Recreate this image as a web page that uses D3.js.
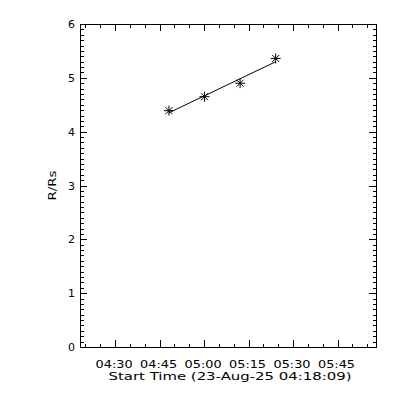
<!DOCTYPE html>
<html>
<head>
<meta charset="utf-8">
<script src="https://cdn.jsdelivr.net/npm/d3@7"></script>
<style>
  html, body { margin: 0; padding: 0; background: #fff; }
  svg { display: block; }
  text { font-family: "DejaVu Sans", sans-serif; fill: #000; }
</style>
</head>
<body>
<script>
// ---- data ----
const startTime = "04:18:09";
const startDate = "23-Aug-25";
const obsTimes = ["04:48:09", "05:00:09", "05:12:09", "05:24:09"];
const heights = [4.39, 4.65, 4.90, 5.36];
const xTickLabels = ["04:30", "04:45", "05:00", "05:15", "05:30", "05:45"];
const xMinorLabels = ["04:20", "04:25", "04:35", "04:40", "04:50", "04:55", "05:05", "05:10",
                      "05:20", "05:25", "05:35", "05:40", "05:50", "05:55"];
const yTicks = [0, 1, 2, 3, 4, 5, 6];
const yTitle = "R/Rs";
const xTitle = "Start Time (" + startDate + " " + startTime + ")";
const xSpanSeconds = 5990;

// ---- helpers ----
const toSec = s => { const p = s.split(":").map(Number); return p[0]*3600 + p[1]*60 + (p[2] || 0); };
const t0 = toSec(startTime);

const W = 400, H = 400;
const L = 80, R = 376, T = 24, B = 347;

const svg = d3.select("body").append("svg").attr("width", W).attr("height", H);

const x = d3.scaleLinear().domain([t0, t0 + xSpanSeconds]).range([L, R]);
const y = d3.scaleLinear().domain([0, 6]).range([B, T]);

const majorX = xTickLabels.map(toSec);
const minorX = xMinorLabels.map(toSec);
const minorY = d3.range(0, 60).map(i => i / 10).filter(v => !yTicks.includes(Math.round(v*10)/10));

const MAJ = 7, MIN = 3.5;

function drawAxis(axis, tx, ty) {
  const g = svg.append("g").attr("transform", `translate(${tx},${ty})`).call(axis);
  g.selectAll("text").remove();
  g.selectAll("line").attr("stroke", "#000");
  g.select(".domain").attr("stroke", "#000");
  g.attr("shape-rendering", "crispEdges");
  return g;
}

// bottom
drawAxis(d3.axisBottom(x).tickValues(majorX).tickSizeInner(-MAJ).tickSizeOuter(0), 0, B);
drawAxis(d3.axisBottom(x).tickValues(minorX).tickSizeInner(-MIN).tickSizeOuter(0), 0, B);
// top
drawAxis(d3.axisTop(x).tickValues(majorX).tickSizeInner(-MAJ).tickSizeOuter(0), 0, T);
drawAxis(d3.axisTop(x).tickValues(minorX).tickSizeInner(-MIN).tickSizeOuter(0), 0, T);
// left
drawAxis(d3.axisLeft(y).tickValues(yTicks).tickSizeInner(-MAJ).tickSizeOuter(0), L, 0);
drawAxis(d3.axisLeft(y).tickValues(minorY).tickSizeInner(-MIN).tickSizeOuter(0), L, 0);
// right
drawAxis(d3.axisRight(y).tickValues(yTicks).tickSizeInner(-MAJ).tickSizeOuter(0), R, 0);
drawAxis(d3.axisRight(y).tickValues(minorY).tickSizeInner(-MIN).tickSizeOuter(0), R, 0);

// tick labels
svg.append("g").selectAll("text").data(xTickLabels).join("text")
  .attr("x", d => x(toSec(d)) - 1)
  .attr("y", 368)
  .attr("text-anchor", "middle")
  .attr("font-size", 11)
  .attr("textLength", 37)
  .attr("lengthAdjust", "spacingAndGlyphs")
  .text(d => d);

svg.append("g").selectAll("text").data(yTicks).join("text")
  .attr("x", 75)
  .attr("y", d => y(d) + 4)
  .attr("text-anchor", "end")
  .attr("font-size", 11)
  .text(d => d);

// titles
svg.append("text")
  .attr("x", 230).attr("y", 380)
  .attr("text-anchor", "middle")
  .attr("font-size", 11)
  .attr("textLength", 243)
  .attr("lengthAdjust", "spacingAndGlyphs")
  .text(xTitle);

svg.append("text")
  .attr("transform", `translate(56,${(T + B) / 2}) rotate(-90)`)
  .attr("text-anchor", "middle")
  .attr("font-size", 11)
  .attr("textLength", 30)
  .attr("lengthAdjust", "spacingAndGlyphs")
  .text(yTitle);

// linear fit line
const xs = obsTimes.map(toSec);
const mx = d3.mean(xs), my = d3.mean(heights);
const slope = d3.sum(xs, (v, i) => (v - mx) * (heights[i] - my)) / d3.sum(xs, v => (v - mx) ** 2);
const icpt = my - slope * mx;
const x1 = d3.min(xs), x2 = d3.max(xs);
svg.append("line")
  .attr("x1", x(x1)).attr("y1", y(icpt + slope * x1))
  .attr("x2", x(x2)).attr("y2", y(icpt + slope * x2))
  .attr("stroke", "#000").attr("stroke-width", 1);

// asterisks
const pts = svg.append("g").attr("stroke", "#000").attr("stroke-width", 1);
obsTimes.forEach((t, i) => {
  const cx = x(toSec(t)), cy = y(heights[i]);
  const r = 5, d = 3.5;
  const g = pts.append("g").attr("transform", `translate(${cx},${cy})`);
  g.append("line").attr("x1", 0).attr("y1", -r).attr("x2", 0).attr("y2", r);
  g.append("line").attr("x1", -r).attr("y1", 0).attr("x2", r).attr("y2", 0);
  g.append("line").attr("x1", -d).attr("y1", -d).attr("x2", d).attr("y2", d);
  g.append("line").attr("x1", -d).attr("y1", d).attr("x2", d).attr("y2", -d);
});
</script>
</body>
</html>
